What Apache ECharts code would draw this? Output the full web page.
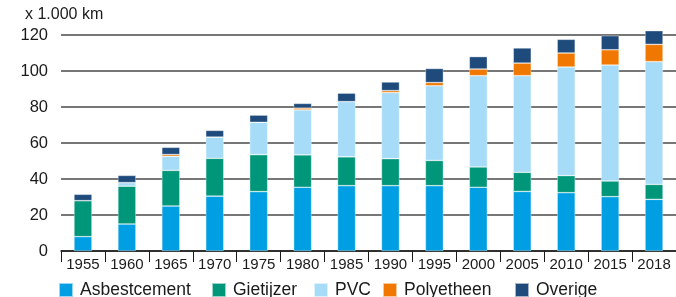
<!DOCTYPE html>
<html>
<head>
<meta charset="utf-8">
<script src="https://cdn.jsdelivr.net/npm/echarts@6/dist/echarts.min.js"></script>
<style>
  html, body {margin: 0; padding: 0; background: #fff;}
  #chart {width: 676px; height: 297px;}
</style>
</head>
<body>
<div id="chart"></div>
<script>
// lengte leidingnet per materiaal, x 1.000 km
const years = ['1955', '1960', '1965', '1970', '1975', '1980', '1985', '1990', '1995', '2000', '2005', '2010', '2015', '2018']
const asbestcement = [8, 15, 25, 30.5, 33, 35.4, 36.3, 36.3, 36.3, 35.4, 33.1, 32.4, 30.2, 28.7]
const gietijzer = [20, 21, 19.8, 21, 20.5, 18, 16, 15, 14, 11.3, 10.6, 9.5, 8.7, 8.3]
const pvc = [0, 2, 7.8, 11.8, 18, 25, 30.7, 36.7, 41.5, 50.7, 53.7, 60.3, 64.4, 68.2]
const polyetheen = [0, 0, 1, 0, 0, 1, 0, 1.1, 1.8, 3.7, 7, 7.8, 8.5, 9.6]
const overige = [3.5, 4, 4, 3.7, 4, 2.6, 4.7, 4.8, 7.8, 6.9, 8.4, 7.6, 7.8, 7.6]
const yTicks = [0, 20, 40, 60, 80, 100, 120]

const font = "'Liberation Sans', Arial, sans-serif"
const seriesDefs = [
  {name: 'Asbestcement', data: asbestcement, color: '#009fe3', legendLeft: 58},
  {name: 'Gietijzer', data: gietijzer, color: '#00967a', legendLeft: 211},
  {name: 'PVC', data: pvc, color: '#a6dcf8', legendLeft: 313},
  {name: 'Polyetheen', data: polyetheen, color: '#f07800', legendLeft: 382},
  {name: 'Overige', data: overige, color: '#1e4a7c', legendLeft: 514}
]

let myChart = echarts.init(document.getElementById('chart'))

let option = {
  animation: false,
  title: {
    text: 'x 1.000 km',
    left: 25,
    top: 7,
    padding: 0,
    textStyle: {fontFamily: font, fontSize: 16, fontWeight: 'normal', color: '#1a1a1a'}
  },
  // een legenda per item, zodat de posities kloppen
  legend: seriesDefs.map(s => ({
    data: [s.name],
    left: s.legendLeft,
    top: 281,
    padding: 0,
    icon: 'rect',
    itemWidth: 14,
    itemHeight: 14,
    itemGap: 0,
    selectedMode: false,
    textStyle: {fontFamily: font, fontSize: 17.5, color: '#1a1a1a', padding: [0, 0, 0, 2]}
  })),
  grid: {left: 61, right: 0, top: 35, bottom: 46},
  xAxis: {
    type: 'category',
    data: years,
    axisLine: {lineStyle: {color: '#1a1a1a', width: 1.5}},
    axisTick: {show: true, length: 11, lineStyle: {color: '#1a1a1a', width: 1}},
    axisLabel: {fontFamily: font, fontSize: 15, color: '#1a1a1a', margin: 6, interval: 0}
  },
  yAxis: {
    type: 'value',
    min: yTicks[0],
    max: yTicks[yTicks.length - 1],
    interval: 20,
    axisLine: {show: false},
    axisTick: {show: false},
    axisLabel: {fontFamily: font, fontSize: 16.5, color: '#1a1a1a', margin: 13},
    splitLine: {lineStyle: {color: '#4a4a4a', width: 1.5}}
  },
  series: seriesDefs.map(s => ({
    name: s.name,
    type: 'bar',
    stack: 'totaal',
    data: s.data,
    barWidth: 18,
    clip: false,
    itemStyle: {color: s.color, borderColor: 'rgba(255,255,255,0.6)', borderWidth: 0.6}
  }))
}

myChart.setOption(option)
</script>
</body>
</html>
